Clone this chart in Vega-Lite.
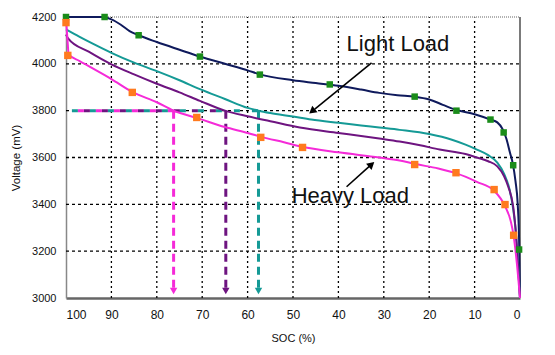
{
  "$schema": "https://vega.github.io/schema/vega-lite/v6.json",
  "width": 454,
  "height": 281,
  "autosize": {"type": "none"},
  "padding": {"left": 66, "top": 17, "right": 35, "bottom": 57},
  "background": "white",
  "config": {
    "view": {"stroke": null},
    "font": "Liberation Sans"
  },
  "datasets": {
    "curves": [
      {"s": "light", "soc": 100, "v": 4200}, {"s": "light", "soc": 92, "v": 4200}, {"s": "light", "soc": 90, "v": 4190}, {"s": "light", "soc": 88, "v": 4168}, {"s": "light", "soc": 86, "v": 4140}, {"s": "light", "soc": 84, "v": 4122}, {"s": "light", "soc": 80, "v": 4093}, {"s": "light", "soc": 75, "v": 4060}, {"s": "light", "soc": 70.5, "v": 4031}, {"s": "light", "soc": 65, "v": 4000}, {"s": "light", "soc": 60, "v": 3972}, {"s": "light", "soc": 57.3, "v": 3955}, {"s": "light", "soc": 50, "v": 3930}, {"s": "light", "soc": 45, "v": 3918}, {"s": "light", "soc": 40, "v": 3906}, {"s": "light", "soc": 35, "v": 3890}, {"s": "light", "soc": 31, "v": 3876}, {"s": "light", "soc": 27, "v": 3866}, {"s": "light", "soc": 23.2, "v": 3860}, {"s": "light", "soc": 20, "v": 3848}, {"s": "light", "soc": 17, "v": 3825}, {"s": "light", "soc": 14, "v": 3803}, {"s": "light", "soc": 10, "v": 3785}, {"s": "light", "soc": 6.5, "v": 3762}, {"s": "light", "soc": 5, "v": 3750}, {"s": "light", "soc": 3.8, "v": 3720}, {"s": "light", "soc": 3, "v": 3680}, {"s": "light", "soc": 2.2, "v": 3620}, {"s": "light", "soc": 1.6, "v": 3575}, {"s": "light", "soc": 1, "v": 3500}, {"s": "light", "soc": 0.5, "v": 3400}, {"s": "light", "soc": 0.2, "v": 3250}, {"s": "light", "soc": 0, "v": 3000},
      {"s": "teal", "soc": 100, "v": 4147}, {"s": "teal", "soc": 97, "v": 4115}, {"s": "teal", "soc": 94, "v": 4085}, {"s": "teal", "soc": 90, "v": 4047}, {"s": "teal", "soc": 85, "v": 4005}, {"s": "teal", "soc": 80, "v": 3969}, {"s": "teal", "soc": 75, "v": 3930}, {"s": "teal", "soc": 70.5, "v": 3892}, {"s": "teal", "soc": 65, "v": 3850}, {"s": "teal", "soc": 60, "v": 3812}, {"s": "teal", "soc": 57.6, "v": 3800}, {"s": "teal", "soc": 55, "v": 3790}, {"s": "teal", "soc": 50, "v": 3775}, {"s": "teal", "soc": 46, "v": 3762}, {"s": "teal", "soc": 40, "v": 3748}, {"s": "teal", "soc": 35, "v": 3737}, {"s": "teal", "soc": 31, "v": 3728}, {"s": "teal", "soc": 26.5, "v": 3718}, {"s": "teal", "soc": 20, "v": 3700}, {"s": "teal", "soc": 15, "v": 3676}, {"s": "teal", "soc": 12, "v": 3655}, {"s": "teal", "soc": 9.5, "v": 3634}, {"s": "teal", "soc": 7, "v": 3610}, {"s": "teal", "soc": 5, "v": 3578}, {"s": "teal", "soc": 3.5, "v": 3530}, {"s": "teal", "soc": 2.3, "v": 3463}, {"s": "teal", "soc": 1.5, "v": 3380}, {"s": "teal", "soc": 1, "v": 3300}, {"s": "teal", "soc": 0.5, "v": 3170}, {"s": "teal", "soc": 0, "v": 3000},
      {"s": "purple", "soc": 100, "v": 4125}, {"s": "purple", "soc": 99.5, "v": 4108}, {"s": "purple", "soc": 95, "v": 4052}, {"s": "purple", "soc": 90, "v": 3998}, {"s": "purple", "soc": 85, "v": 3955}, {"s": "purple", "soc": 80, "v": 3915}, {"s": "purple", "soc": 75, "v": 3878}, {"s": "purple", "soc": 70.5, "v": 3842}, {"s": "purple", "soc": 65, "v": 3800}, {"s": "purple", "soc": 60, "v": 3776}, {"s": "purple", "soc": 55, "v": 3755}, {"s": "purple", "soc": 48.5, "v": 3728}, {"s": "purple", "soc": 40, "v": 3705}, {"s": "purple", "soc": 35, "v": 3692}, {"s": "purple", "soc": 31, "v": 3681}, {"s": "purple", "soc": 26.5, "v": 3668}, {"s": "purple", "soc": 22, "v": 3652}, {"s": "purple", "soc": 17.7, "v": 3634}, {"s": "purple", "soc": 12, "v": 3615}, {"s": "purple", "soc": 9.5, "v": 3600}, {"s": "purple", "soc": 7, "v": 3584}, {"s": "purple", "soc": 5, "v": 3562}, {"s": "purple", "soc": 3.5, "v": 3520}, {"s": "purple", "soc": 2.6, "v": 3476}, {"s": "purple", "soc": 1.5, "v": 3390}, {"s": "purple", "soc": 1, "v": 3300}, {"s": "purple", "soc": 0.5, "v": 3160}, {"s": "purple", "soc": 0, "v": 3000},
      {"s": "heavy", "soc": 100, "v": 4190}, {"s": "heavy", "soc": 99.7, "v": 4110}, {"s": "heavy", "soc": 99.4, "v": 4040}, {"s": "heavy", "soc": 97, "v": 4012}, {"s": "heavy", "soc": 95, "v": 3990}, {"s": "heavy", "soc": 90, "v": 3935}, {"s": "heavy", "soc": 85.4, "v": 3880}, {"s": "heavy", "soc": 80, "v": 3836}, {"s": "heavy", "soc": 76.3, "v": 3800}, {"s": "heavy", "soc": 71, "v": 3768}, {"s": "heavy", "soc": 65, "v": 3730}, {"s": "heavy", "soc": 60, "v": 3705}, {"s": "heavy", "soc": 57, "v": 3688}, {"s": "heavy", "soc": 52, "v": 3665}, {"s": "heavy", "soc": 48, "v": 3646}, {"s": "heavy", "soc": 40, "v": 3622}, {"s": "heavy", "soc": 31, "v": 3600}, {"s": "heavy", "soc": 26.5, "v": 3587}, {"s": "heavy", "soc": 23, "v": 3572}, {"s": "heavy", "soc": 18, "v": 3553}, {"s": "heavy", "soc": 14, "v": 3532}, {"s": "heavy", "soc": 9.5, "v": 3496}, {"s": "heavy", "soc": 5.7, "v": 3458}, {"s": "heavy", "soc": 3.3, "v": 3392}, {"s": "heavy", "soc": 2, "v": 3325}, {"s": "heavy", "soc": 1.4, "v": 3265}, {"s": "heavy", "soc": 0.7, "v": 3150}, {"s": "heavy", "soc": 0, "v": 3000}
    ],
    "markers": [
      {"s": "green", "soc": 100, "v": 4200}, {"s": "green", "soc": 91.5, "v": 4200}, {"s": "green", "soc": 84, "v": 4122}, {"s": "green", "soc": 70.5, "v": 4031}, {"s": "green", "soc": 57.3, "v": 3954}, {"s": "green", "soc": 41.9, "v": 3912}, {"s": "green", "soc": 23.2, "v": 3860}, {"s": "green", "soc": 14, "v": 3800}, {"s": "green", "soc": 6.5, "v": 3762}, {"s": "green", "soc": 3.6, "v": 3707}, {"s": "green", "soc": 1.5, "v": 3567}, {"s": "green", "soc": 0.2, "v": 3207},
      {"s": "orange", "soc": 100, "v": 4176}, {"s": "orange", "soc": 99.6, "v": 4036}, {"s": "orange", "soc": 85.4, "v": 3878}, {"s": "orange", "soc": 71.2, "v": 3771}, {"s": "orange", "soc": 57.1, "v": 3686}, {"s": "orange", "soc": 47.9, "v": 3643}, {"s": "orange", "soc": 23.2, "v": 3570}, {"s": "orange", "soc": 14.1, "v": 3535}, {"s": "orange", "soc": 5.7, "v": 3463}, {"s": "orange", "soc": 3.3, "v": 3399}, {"s": "orange", "soc": 1.4, "v": 3268}
    ],
    "gridx": [
      {"soc": 10, "v": 3000, "v2": 4200}, {"soc": 20, "v": 3000, "v2": 4200}, {"soc": 30, "v": 3000, "v2": 4200},
      {"soc": 40, "v": 3000, "v2": 4200}, {"soc": 50, "v": 3000, "v2": 4200}, {"soc": 60, "v": 3000, "v2": 4200},
      {"soc": 70, "v": 3000, "v2": 4200}, {"soc": 80, "v": 3000, "v2": 4200}, {"soc": 90, "v": 3000, "v2": 4200}
    ],
    "gridy": [
      {"soc": 100, "soc2": 0, "v": 3200}, {"soc": 100, "soc2": 0, "v": 3400}, {"soc": 100, "soc2": 0, "v": 3600},
      {"soc": 100, "soc2": 0, "v": 3800}, {"soc": 100, "soc2": 0, "v": 4000}
    ],
    "topline": [
      {"soc": 100, "soc2": 0, "v": 4200}
    ],
    "guides": [
      {"s": "teal", "soc": 98.7, "soc2": 57.6, "v": 3800},
      {"s": "purple", "soc": 98.7, "soc2": 64.8, "v": 3800},
      {"s": "heavy", "soc": 98.7, "soc2": 76.3, "v": 3800}
    ],
    "drops": [
      {"s": "teal", "soc": 57.6, "v": 3800, "v2": 3040},
      {"s": "purple", "soc": 64.8, "v": 3800, "v2": 3040},
      {"s": "heavy", "soc": 76.3, "v": 3800, "v2": 3040}
    ],
    "heads": [
      {"s": "teal", "soc": 57.6, "v": 3030},
      {"s": "purple", "soc": 64.8, "v": 3030},
      {"s": "heavy", "soc": 76.3, "v": 3030}
    ],
    "border": [
      {"soc": 0, "v": 3000, "v2": 4200}
    ],
    "arrows": [
      {"a": "light", "soc": 32.7, "v": 4004, "soc2": 45.2, "v2": 3807},
      {"a": "heavy", "soc": 38.2, "v": 3475, "soc2": 33.2, "v2": 3562}
    ],
    "arrowheads": [
      {"a": "light", "soc": 45.6, "v": 3801},
      {"a": "heavy", "soc": 32.9, "v": 3567}
    ],
    "labels": [
      {"t": "Light Load", "soc": 38.2, "v": 4054},
      {"t": "Heavy Load", "soc": 50.3, "v": 3404}
    ]
  },
  "encoding": {
    "x": {
      "field": "soc", "type": "quantitative",
      "scale": {"domain": [0, 100], "reverse": true, "nice": false, "zero": false},
      "axis": {
        "title": "SOC (%)", "values": [0, 10, 20, 30, 40, 50, 60, 70, 80, 90, 100], "format": "d",
        "grid": false, "ticks": false, "labelFontSize": 12, "labelPadding": 11, "labelColor": "#111",
        "domainColor": "#666", "domainWidth": 2.5,
        "titleFontSize": 11, "titleFontWeight": "normal", "titlePadding": 12, "titleColor": "#111"
      }
    },
    "y": {
      "field": "v", "type": "quantitative",
      "scale": {"domain": [3000, 4200], "nice": false, "zero": false},
      "axis": {
        "title": "Voltage (mV)", "values": [3000, 3200, 3400, 3600, 3800, 4000, 4200], "format": "d",
        "grid": false, "ticks": false, "labelFontSize": 11, "labelPadding": 10, "labelColor": "#111",
        "domainColor": "#888", "domainWidth": 1.5,
        "titleFontSize": 11.5, "titleFontWeight": "normal", "titlePadding": 10, "titleColor": "#111"
      }
    }
  },
  "layer": [
    {
      "data": {"name": "gridx"},
      "mark": {"type": "rule", "color": "#000000", "strokeWidth": 1.3, "strokeDash": [2, 3], "opacity": 1},
      "encoding": {"y2": {"field": "v2"}}
    },
    {
      "data": {"name": "gridy"},
      "mark": {"type": "rule", "color": "#000000", "strokeWidth": 1.3, "strokeDash": [3, 3], "opacity": 1},
      "encoding": {"x2": {"field": "soc2"}}
    },
    {
      "data": {"name": "topline"},
      "mark": {"type": "rule", "color": "#999999", "strokeWidth": 1.3, "strokeDash": [1, 1], "opacity": 1},
      "encoding": {"x2": {"field": "soc2"}}
    },
    {
      "data": {"name": "border"},
      "mark": {"type": "rule", "color": "#333333", "strokeWidth": 1.3, "opacity": 1},
      "encoding": {"y2": {"field": "v2"}}
    },
    {
      "data": {"name": "guides"},
      "transform": [{"filter": "datum.s === 'teal'"}],
      "mark": {"type": "rule", "color": "#159a96", "strokeWidth": 3, "strokeDash": [6, 12], "strokeDashOffset": 0},
      "encoding": {"x2": {"field": "soc2"}}
    },
    {
      "data": {"name": "guides"},
      "transform": [{"filter": "datum.s === 'purple'"}],
      "mark": {"type": "rule", "color": "#6e1480", "strokeWidth": 3, "strokeDash": [6, 12], "strokeDashOffset": 6},
      "encoding": {"x2": {"field": "soc2"}}
    },
    {
      "data": {"name": "guides"},
      "transform": [{"filter": "datum.s === 'heavy'"}],
      "mark": {"type": "rule", "color": "#f52ad8", "strokeWidth": 3, "strokeDash": [6, 12], "strokeDashOffset": 12},
      "encoding": {"x2": {"field": "soc2"}}
    },
    {
      "data": {"name": "drops"},
      "mark": {"type": "rule", "strokeWidth": 3, "strokeDash": [8, 5]},
      "encoding": {
        "y2": {"field": "v2"},
        "color": {"field": "s", "type": "nominal", "legend": null,
          "scale": {"domain": ["light", "teal", "purple", "heavy"], "range": ["#0f1a5c", "#159a96", "#6e1480", "#f52ad8"]}}
      }
    },
    {
      "data": {"name": "heads"},
      "mark": {"type": "point", "shape": "triangle-down", "filled": true, "size": 55, "opacity": 1},
      "encoding": {
        "color": {"field": "s", "type": "nominal", "legend": null}
      }
    },
    {
      "data": {"name": "curves"},
      "mark": {"type": "line", "strokeWidth": 2, "interpolate": "monotone"},
      "encoding": {
        "color": {"field": "s", "type": "nominal", "legend": null},
        "detail": {"field": "s"}
      }
    },
    {
      "data": {"name": "markers"},
      "transform": [{"filter": "datum.s === 'green'"}],
      "mark": {"type": "square", "filled": true, "size": 42, "color": "#1a8c1a", "opacity": 1}
    },
    {
      "data": {"name": "markers"},
      "transform": [{"filter": "datum.s === 'orange'"}],
      "mark": {"type": "square", "filled": true, "size": 55, "color": "#ff7a1e", "opacity": 1}
    },
    {
      "data": {"name": "arrows"},
      "mark": {"type": "rule", "color": "#000", "strokeWidth": 1.6},
      "encoding": {"x2": {"field": "soc2"}, "y2": {"field": "v2"}}
    },
    {
      "data": {"name": "arrowheads"},
      "transform": [{"filter": "datum.a === 'light'"}],
      "mark": {"type": "point", "shape": "triangle", "filled": true, "size": 70, "color": "#000", "opacity": 1, "angle": 231}
    },
    {
      "data": {"name": "arrowheads"},
      "transform": [{"filter": "datum.a === 'heavy'"}],
      "mark": {"type": "point", "shape": "triangle", "filled": true, "size": 70, "color": "#000", "opacity": 1, "angle": 49}
    },
    {
      "data": {"name": "labels"},
      "mark": {"type": "text", "fontSize": 22, "align": "left", "baseline": "alphabetic", "color": "#111", "font": "Liberation Sans"},
      "encoding": {"text": {"field": "t"}}
    }
  ]
}
